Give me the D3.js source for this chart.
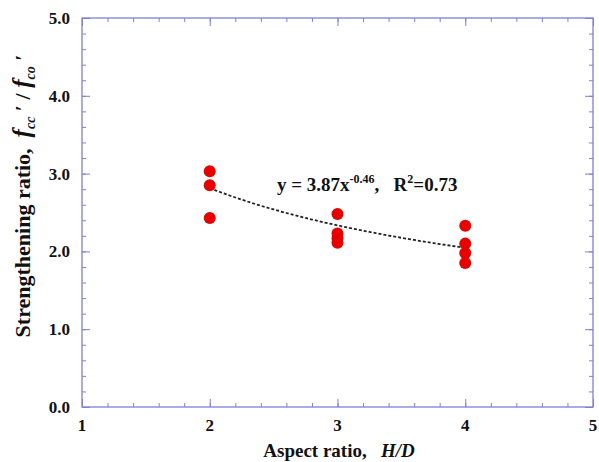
<!DOCTYPE html>
<html>
<head>
<meta charset="utf-8">
<script src="https://cdn.jsdelivr.net/npm/d3@7"></script>
<style>
  body { margin: 0; background: #fff; }
  text { font-family: "Liberation Serif", "Times New Roman", serif; font-weight: bold; fill: #111; }
</style>
</head>
<body>
<div id="chart"></div>
<script>
// measured values from the figure
var xValues = [2, 2, 2, 3, 3, 3, 3, 4, 4, 4, 4];
var yValues = [3.03, 2.85, 2.43, 2.48, 2.23, 2.17, 2.11, 2.33, 2.10, 1.98, 1.85];
var xTicks = [1, 2, 3, 4, 5];
var yTicks = [0, 1, 2, 3, 4, 5];

// power fit shown in the label
var fitA = 3.87, fitB = -0.46, fitR2 = 0.73;

var width = 599, height = 462;
var plotLeft = 82, plotRight = 593, plotTop = 18, plotBottom = 407;
var frameColor = "#7f7fdc";

var svg = d3.select("#chart").append("svg")
    .attr("width", width)
    .attr("height", height);

var xScale = d3.scaleLinear().domain([1, 5]).range([plotLeft, plotRight]);
var yScale = d3.scaleLinear().domain([0, 5]).range([plotBottom, plotTop]);

// minor ticks (every 0.2)
var minorX = d3.range(1, 5.001, 0.2),
    minorY = d3.range(0, 5.001, 0.2);

function tickAxis(axis, ticks, size) {
    return axis.tickValues(ticks).tickSize(size).tickFormat("");
}

var g = svg.append("g");

// bottom / top / left / right ticks, pointing inward
g.append("g").attr("transform", "translate(0," + plotBottom + ")")
    .call(tickAxis(d3.axisTop(xScale), minorX, 4));
g.append("g").attr("transform", "translate(0," + plotBottom + ")")
    .call(tickAxis(d3.axisTop(xScale), xTicks, 8));
g.append("g").attr("transform", "translate(0," + plotTop + ")")
    .call(tickAxis(d3.axisBottom(xScale), minorX, 4));
g.append("g").attr("transform", "translate(0," + plotTop + ")")
    .call(tickAxis(d3.axisBottom(xScale), xTicks, 8));
g.append("g").attr("transform", "translate(" + plotLeft + ",0)")
    .call(tickAxis(d3.axisRight(yScale), minorY, 4));
g.append("g").attr("transform", "translate(" + plotLeft + ",0)")
    .call(tickAxis(d3.axisRight(yScale), yTicks, 8));
g.append("g").attr("transform", "translate(" + plotRight + ",0)")
    .call(tickAxis(d3.axisLeft(yScale), minorY, 4));
g.append("g").attr("transform", "translate(" + plotRight + ",0)")
    .call(tickAxis(d3.axisLeft(yScale), yTicks, 8));

g.selectAll(".domain").remove();
g.selectAll(".tick line").attr("stroke", frameColor).attr("stroke-width", 1);

// frame
svg.append("rect")
    .attr("x", plotLeft).attr("y", plotTop)
    .attr("width", plotRight - plotLeft).attr("height", plotBottom - plotTop)
    .attr("fill", "none")
    .attr("stroke", frameColor)
    .attr("stroke-width", 1.3);

// tick labels
svg.selectAll(".xlab").data(xTicks).enter().append("text")
    .attr("x", function(d) { return xScale(d); })
    .attr("y", plotBottom + 24)
    .attr("text-anchor", "middle")
    .attr("font-size", 17)
    .text(function(d) { return d; });

svg.selectAll(".ylab").data(yTicks).enter().append("text")
    .attr("x", plotLeft - 12)
    .attr("y", function(d) { return yScale(d) + 6; })
    .attr("text-anchor", "end")
    .attr("font-size", 17)
    .text(function(d) { return d.toFixed(1); });

// fitted curve
var fitX = d3.range(2, 4.001, 0.05);
var line = d3.line()
    .x(function(d) { return xScale(d); })
    .y(function(d) { return yScale(fitA * Math.pow(d, fitB)); });

svg.append("path")
    .datum(fitX)
    .attr("d", line)
    .attr("fill", "none")
    .attr("stroke", "#222")
    .attr("stroke-width", 1.8)
    .attr("stroke-dasharray", "3,2");

// data points
svg.selectAll("circle").data(xValues).enter().append("circle")
    .attr("cx", function(d) { return xScale(d); })
    .attr("cy", function(d, i) { return yScale(yValues[i]); })
    .attr("r", 6)
    .attr("fill", "#e60000");

// equation label
var eq = svg.append("text")
    .attr("x", 277).attr("y", 191)
    .attr("font-size", 19);
eq.append("tspan").text("y = " + fitA + "x");
eq.append("tspan").attr("font-size", 12).attr("dy", -8).text(fitB.toFixed(2));
eq.append("tspan").attr("dy", 8).text(",\u00a0\u00a0 R");
eq.append("tspan").attr("font-size", 12).attr("dy", -8).text("2");
eq.append("tspan").attr("dy", 8).text("=" + fitR2);

// x axis title
var xt = svg.append("text")
    .attr("x", 339).attr("y", 457)
    .attr("text-anchor", "middle")
    .attr("font-size", 19);
xt.append("tspan").text("Aspect ratio,\u00a0\u00a0 ");
xt.append("tspan").attr("font-style", "italic").text("H/D");

// y axis title
var yt = svg.append("text")
    .attr("transform", "translate(30,196) rotate(-90)")
    .attr("text-anchor", "middle")
    .attr("font-size", 22);
yt.append("tspan").text("Strengthening ratio,\u00a0\u00a0");
yt.append("tspan").attr("font-style", "italic").attr("font-size", 25).text("f");
yt.append("tspan").attr("font-style", "italic").attr("font-size", 14).attr("dy", 5).text("cc");
yt.append("tspan").attr("dy", -5).attr("font-size", 22).text(" \u2032 / ");
yt.append("tspan").attr("font-style", "italic").attr("font-size", 25).text("f");
yt.append("tspan").attr("font-style", "italic").attr("font-size", 14).attr("dy", 5).text("co");
yt.append("tspan").attr("dy", -5).attr("font-size", 22).text(" \u2032");
</script>
</body>
</html>
